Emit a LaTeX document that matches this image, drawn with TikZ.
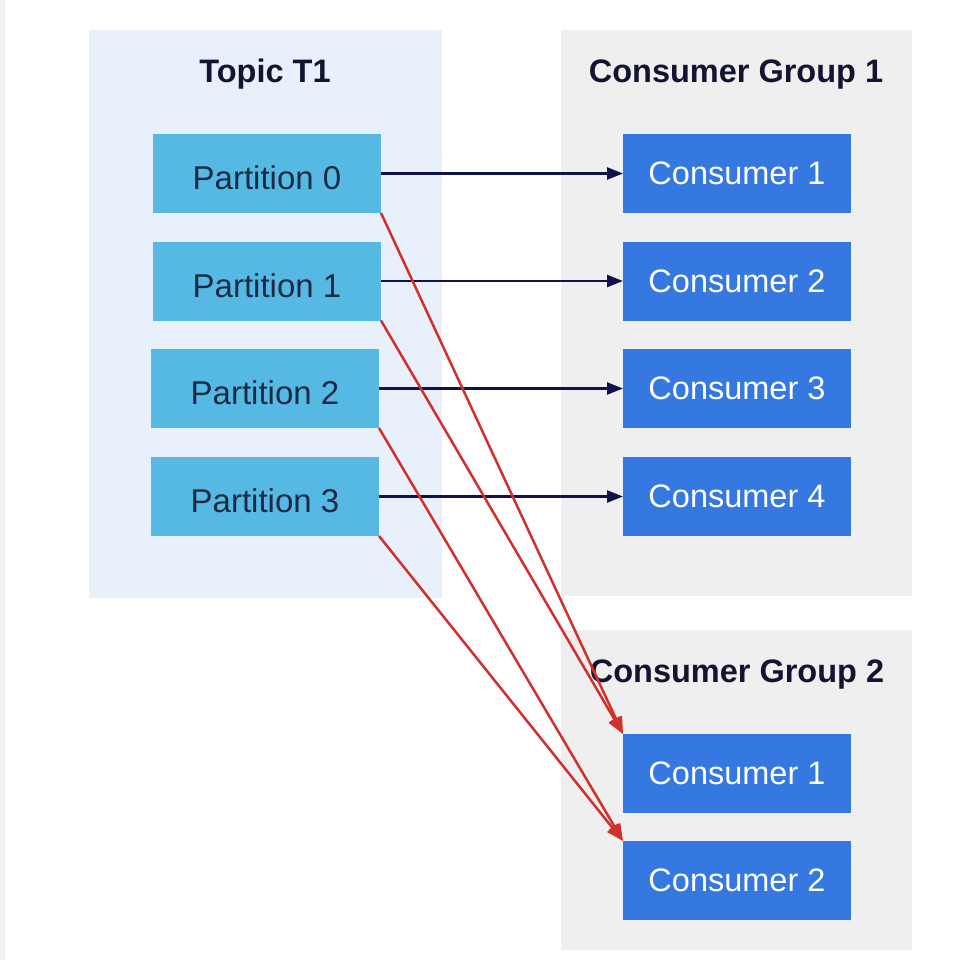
\documentclass[tikz,border=0pt]{standalone}
\usepackage{fontspec}
\setmainfont{Liberation Sans}
\usetikzlibrary{arrows.meta}
\definecolor{topicbg}{HTML}{E8F1FB}
\definecolor{groupbg}{HTML}{EFEFEF}
\definecolor{partfill}{HTML}{55B9E4}
\definecolor{consfill}{HTML}{3478E0}
\definecolor{titlecol}{HTML}{141432}
\definecolor{parttext}{HTML}{1C2B44}
\definecolor{navyarrow}{HTML}{12124A}
\definecolor{redarrow}{HTML}{D0312D}
\definecolor{stripcol}{HTML}{F0F2F5}
\tikzset{
  titletext/.style={font=\fontsize{32.5}{38}\selectfont\bfseries, text=titlecol, anchor=base, inner sep=0pt},
  partbox/.style={fill=partfill, minimum width=228pt, minimum height=79pt, inner sep=0pt, outer sep=0pt,
    font=\fontsize{33}{38}\selectfont, text=parttext, text height=32pt, text depth=0pt},
  consbox/.style={fill=consfill, minimum width=228pt, minimum height=79pt, inner sep=0pt, outer sep=0pt,
    font=\fontsize{32.5}{38}\selectfont, text=white},
  navyarr/.style={draw=navyarrow, line width=2.4pt, -{Triangle[length=16pt,width=12pt]}},
  redarr/.style={draw=redarrow, line width=2.5pt, -{Triangle[length=17pt,width=13pt]}}
}
\begin{document}
\begin{tikzpicture}[x=1pt,y=-1pt]
\useasboundingbox (0,0) rectangle (966,960);
\fill[white] (0,0) rectangle (966,960);
\fill[stripcol] (0,0) rectangle (5,960);
% panels
\fill[topicbg] (89,30) rectangle (442,598);
\fill[groupbg] (561,30) rectangle (912,596);
\fill[groupbg] (561,630) rectangle (912,950);
% titles
\node[titletext] (ttopic) at (265,83) {Topic T1};
\node[titletext] (tg1) at (736,83) {Consumer Group 1};
\node[titletext] (tg2) at (737,682) {Consumer Group 2};
% partitions
\node[partbox] (p0) at (267,173.5) {Partition 0};
\node[partbox] (p1) at (267,281) {Partition 1};
\node[partbox] (p2) at (265,388.5) {Partition 2};
\node[partbox] (p3) at (265,496.5) {Partition 3};
% group 1 consumers
\node[consbox] (a1) at (737,173.5) {Consumer 1};
\node[consbox] (a2) at (737,281) {Consumer 2};
\node[consbox] (a3) at (737,388.5) {Consumer 3};
\node[consbox] (a4) at (737,496.5) {Consumer 4};
% group 2 consumers
\node[consbox] (b1) at (737,773.5) {Consumer 1};
\node[consbox] (b2) at (737,880.5) {Consumer 2};
% navy arrows
\draw[navyarr] (p0.east) -- (a1.west);
\draw[navyarr] (p1.east) -- (a2.west);
\draw[navyarr] (p2.east) -- (a3.west);
\draw[navyarr] (p3.east) -- (a4.west);
% red arrows
\draw[redarr] (p0.south east) -- (b1.north west);
\draw[redarr] (p1.south east) -- (b1.north west);
\draw[redarr] (p2.south east) -- (b2.north west);
\draw[redarr] (p3.south east) -- (b2.north west);
\end{tikzpicture}
\end{document}
